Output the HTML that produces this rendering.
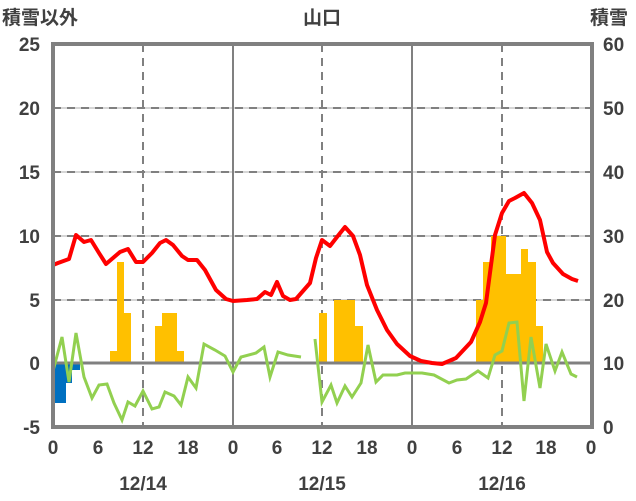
<!DOCTYPE html><html><head><meta charset="utf-8"><style>body{margin:0;background:#fff}svg{display:block}text{font-family:"Liberation Sans","Noto Sans CJK JP",sans-serif;fill:#404040;font-size:19px}</style></head><body>
<svg width="636" height="501" viewBox="0 0 636 501">
<g stroke="#c8c8c8" stroke-width="1.5" fill="none">
<line x1="53" y1="108" x2="591" y2="108"/><line x1="53" y1="172" x2="591" y2="172"/><line x1="53" y1="236" x2="591" y2="236"/><line x1="53" y1="300" x2="591" y2="300"/></g>
<g stroke="#808080" stroke-width="2" stroke-dasharray="8,6" fill="none">
<line x1="53" y1="108" x2="591" y2="108"/><line x1="53" y1="172" x2="591" y2="172"/><line x1="53" y1="236" x2="591" y2="236"/><line x1="53" y1="300" x2="591" y2="300"/>
<line x1="143" y1="44" x2="143" y2="427"/><line x1="322" y1="44" x2="322" y2="427"/><line x1="502" y1="44" x2="502" y2="427"/></g>
<g stroke="#808080" stroke-width="2"><line x1="233" y1="44" x2="233" y2="427"/><line x1="412" y1="44" x2="412" y2="427"/></g>
<g fill="#ffc000">
<rect x="110" y="351" width="7" height="12"/><rect x="117" y="262" width="7" height="101"/><rect x="124" y="313" width="7" height="50"/>
<rect x="155" y="326" width="7" height="37"/><rect x="162" y="313" width="15" height="50"/><rect x="177" y="351" width="7" height="12"/>
<rect x="319" y="313" width="8" height="50"/><rect x="334" y="300" width="21" height="63"/><rect x="355" y="326" width="8" height="37"/>
<rect x="476" y="300" width="8" height="63"/><rect x="483" y="262" width="8" height="101"/><rect x="491" y="236" width="15" height="127"/><rect x="506" y="274" width="15" height="89"/><rect x="521" y="249" width="7" height="114"/><rect x="528" y="262" width="8" height="101"/><rect x="536" y="326" width="7" height="37"/></g>
<g fill="#0070c0"><rect x="53" y="363" width="13" height="40"/><rect x="66" y="363" width="6" height="20"/><rect x="72" y="363" width="8" height="7"/></g>
<line x1="53" y1="363" x2="591" y2="363" stroke="#808080" stroke-width="3"/>
<polyline fill="none" stroke="#92d050" stroke-width="3" points="53,371 62,337 69,382 76,333 84,377 92,398 99,385 107,384 114,403 122,420 128,402 135,406 143,391 152,409 159,407 165,392 174,396 181,405 188,377 196,388 204,344 215,350 225,356 233,372 241,357 256,353 264,347 270,377 278,352 288,355 301,357"/>
<polyline fill="none" stroke="#92d050" stroke-width="3" points="315,339 322,402 331,385 337,403 345,386 352,397 361,383 368,345 376,382 383,375 397,375 405,373 422,373 434,375 449,383 457,380 466,379 478,371 488,378 495,355 502,351 509,323 517,322 524,401 531,337 540,388 546,344 555,371 562,352 571,374 577,377"/>
<polyline fill="none" stroke="#ff0000" stroke-width="4" stroke-linejoin="round" points="53,265 58,263 69,259 76,235 84,242 91,240 99,253 106,264 113,258 120,252 128,249 136,262 143,262 152,253 160,243 166,240 173,245 182,256 188,260 197,260 205,270 216,290 226,299 233,301 247,300 257,299 265,292 271,295 277,282 283,296 290,300 296,299 303,291 310,283 316,258 322,240 330,246 337,237 345,227 353,236 360,255 367,285 377,310 387,330 397,344 410,356 421,361 432,363 442,364 456,358 471,342 480,322 486,303 495,235 502,213 509,201 515,198 524,193 532,203 540,220 547,252 553,263 563,274 572,279 578,281"/>
<line x1="53" y1="427" x2="578" y2="427" stroke="#7030a0" stroke-width="3"/>
<rect x="53" y="44" width="539" height="383" fill="none" stroke="#808080" stroke-width="4"/>
<g text-anchor="end" font-weight="bold"><text x="40" y="51">25</text><text x="40" y="115">20</text><text x="40" y="179">15</text><text x="40" y="243">10</text><text x="40" y="307">5</text><text x="40" y="370">0</text><text x="40" y="434">-5</text></g>
<g font-weight="bold"><text x="603" y="51">60</text><text x="603" y="115">50</text><text x="603" y="179">40</text><text x="603" y="243">30</text><text x="603" y="307">20</text><text x="603" y="370">10</text><text x="603" y="434">0</text></g>
<g text-anchor="middle" font-weight="bold"><text x="53" y="454">0</text><text x="98" y="454">6</text><text x="143" y="454">12</text><text x="188" y="454">18</text><text x="233" y="454">0</text><text x="277" y="454">6</text><text x="322" y="454">12</text><text x="367" y="454">18</text><text x="412" y="454">0</text><text x="457" y="454">6</text><text x="502" y="454">12</text><text x="546" y="454">18</text><text x="591" y="454">0</text>
<text x="143" y="490">12/14</text><text x="322" y="490">12/15</text><text x="502" y="490">12/16</text>
<text x="322" y="24">山口</text></g>
<text x="2" y="24" font-weight="bold">積雪以外</text><text x="590" y="24" font-weight="bold">積雪</text>
</svg></body></html>
